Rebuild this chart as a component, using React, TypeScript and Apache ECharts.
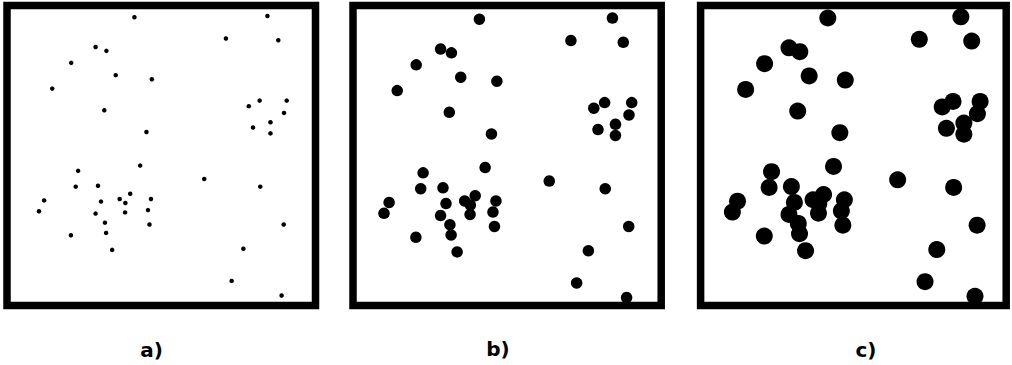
import React, { useEffect, useRef } from "react";
import * as echarts from "echarts";

// Point set shared by all three panels (x, y on a 0–100 scale)
const xs = [
  41.1, 28.2, 31.8, 20.1, 34.9, 46.9, 13.8, 31.1, 45.1, 85.3, 71.5, 88.9, 82.7, 91.7, 79.1,
  90.8, 86.3, 80.5, 86.3, 43.0, 22.4, 21.6, 29.0, 39.7, 11.1, 36.2, 46.6, 30.0, 38.1, 9.4,
  45.6, 28.2, 38.0, 31.3, 46.1, 31.7, 20.0, 33.7, 64.3, 82.9, 90.7, 77.3, 73.4, 90.0,
];
const ys = [
  97.2, 87.0, 85.7, 81.6, 77.4, 76.0, 72.8, 65.4, 58.0, 97.6, 89.9, 89.3, 68.7, 68.7, 66.8,
  64.5, 61.3, 59.5, 57.5, 46.5, 44.7, 39.3, 39.6, 36.9, 34.6, 35.1, 35.1, 34.2, 33.7, 30.9,
  31.3, 30.1, 30.5, 27.0, 26.4, 23.5, 22.7, 17.7, 41.9, 39.3, 26.4, 18.1, 7.1, 2.1,
];

// Panel captions and marker diameters
const panelLabels = ["a)", "b)", "c)"];
const markerSizes = [4.5, 11.5, 17];

// Plot area of each panel (inner side of its frame)
const plotBoxes = [
  { left: 10.7, top: 9, width: 301, height: 292.7 },
  { left: 355.7, top: 11, width: 301, height: 292.7 },
  { left: 704.1, top: 9.8, width: 301, height: 292.7 },
];
// Frame rectangles (stroke centre line)
const frames = [
  { x: 7, y: 5.5, width: 308.5, height: 300 },
  { x: 353, y: 5.5, width: 308.2, height: 300 },
  { x: 700.6, y: 5.5, width: 305.6, height: 300 },
];
const labelPos = [
  { x: 151.5, y: 350 },
  { x: 498, y: 349 },
  { x: 866, y: 350 },
];

export default function App() {
  const ref = useRef<HTMLDivElement>(null);

  useEffect(() => {
    if (!ref.current) return;
    const chart = echarts.init(ref.current, null, { renderer: "svg" });
    const points = xs.map((x, i) => [x, ys[i]]);

    chart.setOption({
      animation: false,
      backgroundColor: "#ffffff",
      grid: plotBoxes.map((b) => ({ ...b, show: false, containLabel: false })),
      xAxis: plotBoxes.map((_, i) => ({
        type: "value",
        gridIndex: i,
        min: 0,
        max: 100,
        show: false,
      })),
      yAxis: plotBoxes.map((_, i) => ({
        type: "value",
        gridIndex: i,
        min: 0,
        max: 100,
        show: false,
      })),
      series: markerSizes.map((size, i) => ({
        type: "scatter",
        xAxisIndex: i,
        yAxisIndex: i,
        data: points,
        symbol: "circle",
        symbolSize: size,
        clip: false,
        itemStyle: { color: "#000000", opacity: 1 },
        emphasis: { disabled: true },
        silent: true,
      })),
      graphic: [
        ...frames.map((f) => ({
          type: "rect",
          shape: { ...f },
          style: { fill: "none", stroke: "#000000", lineWidth: 7.5 },
          silent: true,
          z: 10,
        })),
        ...panelLabels.map((t, i) => ({
          type: "text",
          x: labelPos[i].x,
          y: labelPos[i].y,
          style: {
            text: t,
            fill: "#000000",
            font: "bold 20px 'DejaVu Sans', Verdana, sans-serif",
            textAlign: "center",
            textVerticalAlign: "middle",
          },
          silent: true,
        })),
      ],
    });

    return () => chart.dispose();
  }, []);

  return (
    <div
      ref={ref}
      style={{ position: "fixed", left: 0, top: 0, width: 1012, height: 365 }}
    />
  );
}
